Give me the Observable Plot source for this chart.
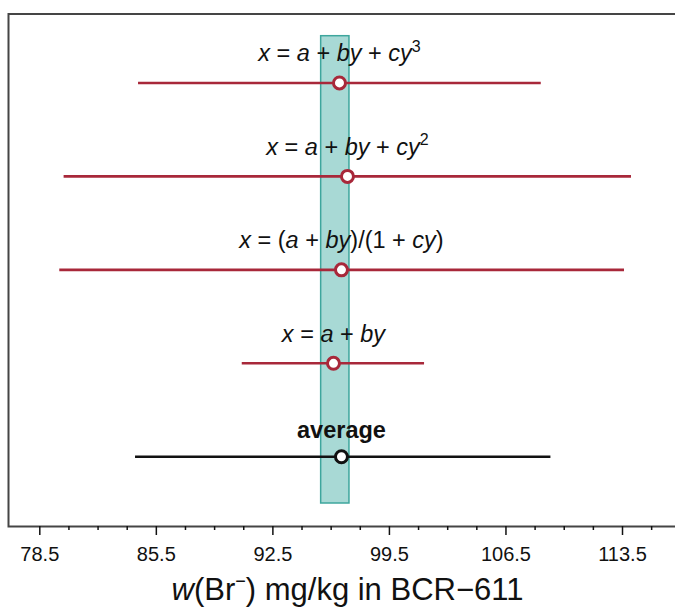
<!DOCTYPE html>
<html><head><meta charset="utf-8">
<script src="https://cdn.jsdelivr.net/npm/d3@7"></script>
<script src="https://cdn.jsdelivr.net/npm/@observablehq/plot@0.6"></script>
<style>
body{margin:0;background:#fff;overflow:hidden;font-family:"Liberation Sans",Arial,sans-serif}
#chart{width:675px;overflow:hidden}
#title{font-size:31px;color:#111;width:675px;text-align:center;padding-left:20px;box-sizing:border-box;line-height:34px;margin-top:5px;white-space:nowrap}
#title sup{font-size:18px;vertical-align:13px;line-height:0}
</style></head><body>
<div id="chart"></div>
<div id="title"><i>w</i>(Br<sup>−</sup>) mg/kg in BCR−611</div>
<script>
const models = ["x = a + by + cy^3", "x = a + by + cy^2", "x = (a + by)/(1 + cy)", "x = a + by", "average"];
const centers = [96.5, 96.98, 96.62, 96.14, 96.62];
const lows = [84.43, 79.96, 79.70, 90.66, 84.25];
const highs = [108.62, 114.04, 113.62, 101.61, 109.2];
const refRange = [95.4, 97.1];
const majorTicks = [78.5, 85.5, 92.5, 99.5, 106.5, 113.5];
const minorTicks = [80.25, 82, 83.75, 87.25, 89, 90.75, 94.25, 96, 97.75, 101.25, 103, 104.75, 108.25, 110, 111.75, 115.25];

const data = models.map((m, i) => ({model: m, row: i + 1, center: centers[i], low: lows[i], high: highs[i], avg: m === "average"}));
const fits = data.filter(d => !d.avg);
const avg = data.filter(d => d.avg);
const band = [{x1: refRange[0], x2: refRange[1], y1: 0.5, y2: models.length + 0.5}];

const RED = "#a8283a";
const svg = Plot.plot({
  width: 690,
  height: 568,
  marginLeft: 8,
  marginRight: 0,
  marginTop: 13.5,
  marginBottom: 42,
  style: {fontFamily: "'Liberation Sans', Arial, sans-serif", color: "#111", background: "white", maxWidth: "none"},
  x: {domain: [78.5 - 31.3 / 16.65, 113.5 + 68 / 16.65], label: null},
  y: {type: "linear", domain: [0.5, 5.5], range: [35.7, 503], axis: null},
  marks: [
    Plot.rect(band, {x1: "x1", x2: "x2", y1: "y1", y2: "y2", fill: "#a8d9d5", stroke: "#3ea69d", strokeWidth: 1.5}),
    Plot.ruleY(fits, {y: "row", x1: "low", x2: "high", stroke: RED, strokeWidth: 2.6}),
    Plot.ruleY(avg, {y: "row", x1: "low", x2: "high", stroke: "#111", strokeWidth: 2.6}),
    Plot.dot(fits, {x: "center", y: "row", r: 6, fill: "white", stroke: RED, strokeWidth: 3}),
    Plot.dot(avg, {x: "center", y: "row", r: 6, fill: "white", stroke: "#111", strokeWidth: 3}),
    Plot.text(fits, {x: "center", y: "row", text: "model", dy: -29, fontSize: 23.5, fill: "#111", className: "eqlabel"}),
    Plot.text(avg, {x: "center", y: "row", text: "model", dy: -26, fontSize: 23.5, fontWeight: "bold", fill: "#111"}),
    Plot.frame({stroke: "#454545", strokeWidth: 2}),
    Plot.axisX({ticks: majorTicks, tickSize: 9, tickPadding: 11, fontSize: 20, tickFormat: d => d.toFixed(1), label: null, strokeWidth: 1.5}),
    Plot.axisX({ticks: minorTicks, tickSize: 4, tickFormat: () => "", label: null, strokeWidth: 1.5})
  ]
});
svg.style.maxWidth = "none";

// Rich formatting: italic variables, superscript exponents
d3.select(svg).selectAll("g.eqlabel text").each(function() {
  const s = this.textContent;
  const el = d3.select(this);
  el.text(null);
  const parts = [];
  for (let i = 0; i < s.length; i++) {
    const c = s[i];
    if (c === "^") { parts.push({t: s[i + 1], k: "sup"}); i++; continue; }
    const k = /[a-z]/.test(c) ? "it" : "n";
    if (parts.length && parts[parts.length - 1].k === k) parts[parts.length - 1].t += c;
    else parts.push({t: c, k});
  }
  for (const p of parts) {
    const ts = el.append("tspan").text(p.t);
    if (p.k === "it") ts.attr("font-style", "italic");
    if (p.k === "sup") ts.attr("font-size", "16px").attr("dy", "-0.6em");
  }
});

document.getElementById("chart").append(svg);
</script>
</body></html>
